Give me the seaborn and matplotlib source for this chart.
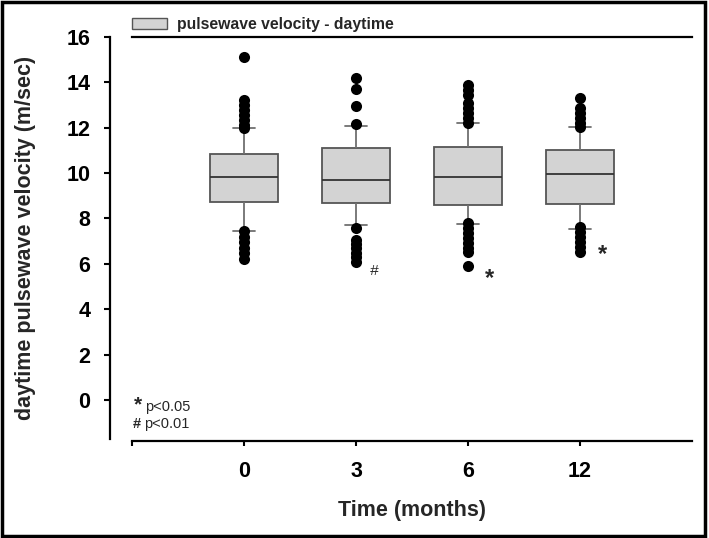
import numpy as np
import pandas as pd
import matplotlib
matplotlib.use("Agg")
import matplotlib.pyplot as plt
import seaborn as sns
from matplotlib.patches import Patch, Rectangle

# ---- data ----
months = ["0", "3", "6", "12"]
whisker_low = [7.46, 7.71, 7.76, 7.54]
quartile_1 = [8.71, 8.67, 8.59, 8.62]
median = [9.84, 9.68, 9.81, 9.95]
quartile_3 = [10.84, 11.09, 11.16, 11.02]
whisker_high = [11.97, 12.09, 12.22, 12.05]

outliers_0 = [15.10, 13.22, 13.00, 12.78, 12.56, 12.34, 12.12, 12.00,
              7.46, 7.20, 6.98, 6.69, 6.47, 6.20]
outliers_3 = [14.20, 13.70, 12.96, 12.15,
              7.57, 7.05, 6.87, 6.69, 6.49, 6.32, 6.07]
outliers_6 = [13.88, 13.66, 13.44, 13.07, 12.85, 12.64, 12.41, 12.22,
              7.79, 7.57, 7.35, 7.13, 6.91, 6.69, 6.54, 5.92]
outliers_12 = [13.30, 12.86, 12.64, 12.41, 12.19, 12.05,
               7.64, 7.42, 7.20, 6.98, 6.76, 6.54]

sig_marks = ["#", "*", "*"]          # for months 3, 6, 12
sig_x = [1.16, 2.19, 3.205]
sig_y = [5.70, 5.35, 6.39]

legend_label = "pulsewave velocity - daytime"
x_label = "Time (months)"
y_label = "daytime pulsewave velocity (m/sec)"
y_ticks = [0, 2, 4, 6, 8, 10, 12, 14, 16]

# ---- build tables ----
box_rows = []
for m, a, b, c, d, e in zip(months, whisker_low, quartile_1, median, quartile_3, whisker_high):
    for v in (a, b, c, d, e):
        box_rows.append({"time": m, "value": v})
box_df = pd.DataFrame(box_rows)

out_rows = []
for m, vals in zip(months, [outliers_0, outliers_3, outliers_6, outliers_12]):
    for v in vals:
        out_rows.append({"time": m, "value": v})
out_df = pd.DataFrame(out_rows)

# ---- figure ----
sns.set_style("white")
plt.rcParams["font.family"] = ["Liberation Sans", "DejaVu Sans"]

fig = plt.figure(figsize=(7.09, 5.38), dpi=100)
ax = fig.add_axes([132 / 709, 1 - 439 / 538, 560 / 709, (439 - 37) / 538])

sns.boxplot(data=box_df, x="time", y="value", order=months, ax=ax,
            color="#d3d3d3", saturation=1, width=0.6, whis=(0, 100),
            showfliers=False, linewidth=1.3,
            boxprops=dict(edgecolor="#555555", facecolor="#d3d3d3"),
            medianprops=dict(color="#333333", linewidth=1.3),
            whiskerprops=dict(color="#707070", linewidth=1.3),
            capprops=dict(color="#707070", linewidth=1.3),
            capwidths=0.2)

sns.stripplot(data=out_df, x="time", y="value", order=months, ax=ax,
              jitter=False, color="black", size=8, linewidth=0, zorder=5)

ax.set_xlim(-1, 4)
ax.set_ylim(-1.72, 16)

# spines first (set_position resets ticks)
ax.spines["right"].set_visible(False)
for sp in ("left", "bottom", "top"):
    ax.spines[sp].set_linewidth(1.6)
    ax.spines[sp].set_color("black")
ax.spines["left"].set_position(("outward", 16))
ax.spines["bottom"].set_position(("outward", 1.5))

ax.tick_params(axis="y", direction="out", length=4.5, width=1.5, pad=9.5,
               left=True, colors="black", labelsize=15.5)
ax.tick_params(axis="x", direction="out", length=3.6, width=1.5, pad=11,
               bottom=True, colors="black", labelsize=15.5)

ax.set_yticks(y_ticks)
ax.set_yticklabels([str(t) for t in y_ticks], fontweight="bold", fontsize=15.5)
ax.set_xticks([-1, 0, 1, 2, 3])
ax.set_xticklabels([""] + months, fontweight="bold", fontsize=15.5)

ax.set_xlabel(x_label, fontsize=15.5, fontweight="bold", labelpad=13)
ax.set_ylabel(y_label, fontsize=15.5, fontweight="bold", labelpad=22)

# significance marks
for s, x, y in zip(sig_marks, sig_x, sig_y):
    if s == "#":
        ax.text(x, y, s, ha="center", va="center", fontsize=11, style="italic")
    else:
        ax.text(x, y, s, ha="center", va="center", fontsize=17, fontweight="bold")

# footnote
ax.text(-0.985, -0.47, "*", fontsize=15, fontweight="bold", ha="left", va="baseline")
ax.text(-0.885, -0.47, "p<0.05", fontsize=10.5, ha="left", va="baseline")
ax.text(-0.99, -1.22, "#", fontsize=10.5, fontweight="bold", ha="left", va="baseline")
ax.text(-0.89, -1.22, "p<0.01", fontsize=10.5, ha="left", va="baseline")

# legend
handle = Patch(facecolor="#d3d3d3", edgecolor="#555555", linewidth=1.0)
ax.legend([handle], [legend_label], loc="lower left", bbox_to_anchor=(0, 1.012),
          frameon=False, prop=dict(weight="bold", size=11.3),
          handlelength=2.2, handleheight=0.7, handletextpad=0.65,
          borderaxespad=0.0, borderpad=0.0)

# figure border
fig.patches.append(Rectangle((0.003, 0.004), 0.992, 0.992, transform=fig.transFigure,
                             fill=False, edgecolor="black", linewidth=2.5))

fig.savefig("out.png", dpi=100)
